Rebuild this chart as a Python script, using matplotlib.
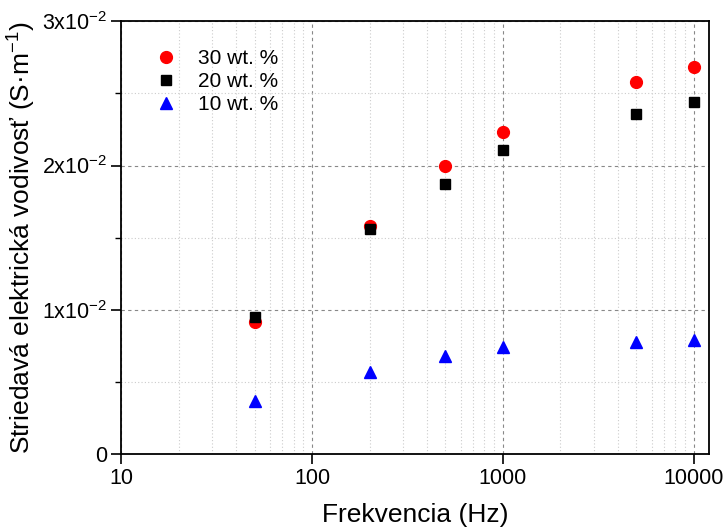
import numpy as np
import matplotlib
matplotlib.use("Agg")
from matplotlib import pyplot as plt
from matplotlib.ticker import FixedLocator, FuncFormatter, LogLocator, NullFormatter

plt.rcParams["font.family"] = ["Liberation Sans", "DejaVu Sans"]
plt.rcParams["mathtext.fontset"] = "custom"
plt.rcParams["mathtext.rm"] = "Liberation Sans"
plt.rcParams["mathtext.it"] = "Liberation Sans"

freq = [50, 200, 500, 1000, 5000, 10000]
wt30 = [0.00915, 0.0158, 0.0200, 0.0223, 0.0258, 0.0268]
wt20 = [0.0095, 0.0156, 0.01875, 0.0211, 0.02357, 0.02437]
wt10 = [0.0037, 0.0057, 0.0068, 0.0074, 0.0078, 0.0079]

y_major = [0, 0.01, 0.02, 0.03]
y_labels = ["0", "1x10$^{-2}$", "2x10$^{-2}$", "3x10$^{-2}$"]

fig = plt.figure(figsize=(7.25, 5.3), dpi=100)
ax = fig.add_axes([0.167, 0.143, 0.811, 0.817])

ax.plot(freq, wt30, "o", color="red", markersize=8.5, label="30 wt. %", zorder=3)
ax.plot(freq, wt20, "s", color="black", markersize=7.5, label="20 wt. %", zorder=3)
ax.plot(freq, wt10, "^", color="blue", markersize=8.5, label="10 wt. %", zorder=3)

ax.set_xscale("log")
ax.set_xlim(10, 12000)
ax.set_ylim(0, 0.03)

ax.xaxis.set_major_locator(FixedLocator([10, 100, 1000, 10000]))
ax.xaxis.set_major_formatter(FuncFormatter(lambda v, p: "%d" % v))
ax.xaxis.set_minor_locator(LogLocator(base=10, subs=np.arange(2, 10)))
ax.xaxis.set_minor_formatter(NullFormatter())

ax.yaxis.set_major_locator(FixedLocator(y_major))
ax.set_yticklabels(y_labels)
ax.yaxis.set_minor_locator(FixedLocator([0.005, 0.015, 0.025]))

ax.grid(which="major", color="#888888", linestyle=(0, (3, 3)), linewidth=0.8)
ax.grid(which="minor", color="#cccccc", linestyle=(0, (1, 2)), linewidth=0.8)

ax.tick_params(which="major", direction="out", length=7, width=1.2, labelsize=15.5, pad=3)
ax.tick_params(which="minor", direction="out", length=4, width=1.0)
ax.tick_params(axis="x", which="minor", length=0)
for s in ax.spines.values():
    s.set_linewidth(1.3)

ax.set_xlabel("Frekvencia (Hz)", fontsize=19, labelpad=10)
ax.set_ylabel("Striedavá elektrická vodivosť (S·m$^{-1}$)", fontsize=19, labelpad=3)

ax.legend(loc="upper left", frameon=False, fontsize=15, handletextpad=0.8,
          borderaxespad=0.0, bbox_to_anchor=(0.035, 0.955), labelspacing=0.2,
          handlelength=1.5)

fig.savefig("out.png", dpi=100)
